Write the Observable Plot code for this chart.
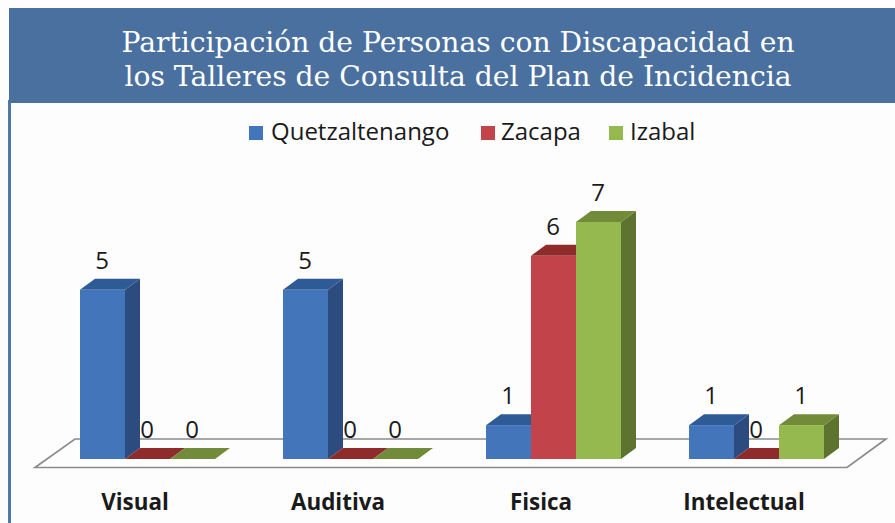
<!DOCTYPE html>
<html><head><meta charset="utf-8">
<script src="https://cdn.jsdelivr.net/npm/d3@7"></script>
<script src="https://cdn.jsdelivr.net/npm/@observablehq/plot@0.6"></script>
<style>
html,body{margin:0;padding:0;background:#fdfdfd;overflow:hidden}
#page{position:relative;width:895px;height:523px;overflow:hidden}
#edge{position:absolute;left:8px;top:100px;width:3px;height:423px;background:#4f79ad}
#title{position:absolute;left:9px;top:8px;width:886px;height:95px;background:#4a70a0;color:#fff;
 font:28.2px/34px "DejaVu Serif",serif;text-align:center;box-sizing:border-box;padding-top:18px;padding-left:12px;white-space:nowrap}
#legend{position:absolute;left:0;top:104px;width:895px;height:46px;font:24px "Open Sans",sans-serif;color:#1a1a1a}
#legend span{position:absolute;top:11px;white-space:nowrap;line-height:32px}
#legend i{position:absolute;top:22px;width:14px;height:14px}
#chart{position:absolute;left:0;top:150px}
</style></head><body>
<div id="page">
<div id="edge"></div>
<div id="title">Participación de Personas con Discapacidad en<br>los Talleres de Consulta del Plan de Incidencia</div>
<div id="legend"></div>
<div id="chart"></div>
</div>
<script>
const categories = ["Visual","Auditiva","Fisica","Intelectual"];
const series = ["Quetzaltenango","Zacapa","Izabal"];
const quetzaltenango = [5,5,1,1];
const zacapa = [0,0,6,0];
const izabal = [0,0,7,1];
const frontColors = ["#4275ba","#c24349","#95b94e"];
const sideColors = ["#2c4c80","#86282a","#5f7330"];
const topColors = ["#2e5b96","#8f2b2b","#728b39"];
const legendSwatchX = [249,481,609];
const legendTextX = [271,501,630];

const values = [quetzaltenango,zacapa,izabal];
const rows = categories.flatMap((c,i)=>series.map((s,j)=>({cat:c,serie:s,value:values[j][i]})));

const legend = document.getElementById("legend");
series.forEach((s,j)=>{
  const sw=document.createElement("i");sw.style.left=legendSwatchX[j]+"px";sw.style.background=frontColors[j];legend.appendChild(sw);
  const t=document.createElement("span");t.textContent=s;t.style.left=legendTextX[j]+"px";legend.appendChild(t);
});

const chartWidth=895, chartLeft=46, chartRight=37;
const depthX=15, depthY=11;
const NS="http://www.w3.org/2000/svg";
function poly(points,fill){const p=document.createElementNS(NS,"polygon");p.setAttribute("points",points.map(d=>d.join(",")).join(" "));p.setAttribute("fill",fill);return p;}

function extrude(index,scales,vals,dims,ctx,next){
  const g=next(index,scales,vals,dims,ctx);
  const rects=[...g.querySelectorAll("rect")];
  rects.forEach((r,k)=>{
    const j=series.indexOf(rows[index[k]].serie);
    const x=+r.getAttribute("x"),y=+r.getAttribute("y"),w=+r.getAttribute("width"),h=+r.getAttribute("height");
    const parent=r.parentNode;
    parent.insertBefore(poly([[x+w,y],[x+w+depthX,y-depthY],[x+w+depthX,y+h-depthY],[x+w,y+h]],sideColors[j]),r);
    parent.insertBefore(poly([[x,y],[x+depthX,y-depthY],[x+w+depthX,y-depthY],[x+w,y]],topColors[j]),r);
  });
  return g;
}

let floorDone=false;
function floor(index,scales,vals,dims){
  if(floorDone) return null;
  floorDone=true;
  const off=scales.fx(categories[0])-dims.marginLeft;
  const l=chartLeft-off, r=chartWidth-chartRight-off, y0=scales.y(0);
  const p=poly([[l-11,y0+8.5],[r-11,y0+8.5],[r+28,y0-20],[l+29,y0-20]],"#fdfdfd");
  p.setAttribute("stroke","#8b8b8b");p.setAttribute("stroke-width","1.7");
  return p;
}

const plot=Plot.plot({
  width:chartWidth,height:373,
  marginLeft:chartLeft,marginRight:chartRight,marginTop:72,marginBottom:64,
  style:{background:"transparent"},
  fx:{domain:categories,paddingInner:0.335,paddingOuter:0.1675,axis:null,label:null},
  x:{domain:series,padding:0,axis:null},
  y:{domain:[0,7],axis:null},
  color:{domain:series,range:frontColors},
  marks:[
    floor,
    Plot.text(rows,{fx:"cat",x:"serie",y:"value",text:d=>String(d.value),dx:-1,dy:-29,fontSize:24,fontFamily:"Open Sans",fill:"#1a1a1a"}),
    Plot.barY(rows,{fx:"cat",x:"serie",y:"value",fill:"serie",render:extrude}),
    Plot.axisFx({anchor:"bottom",tickSize:0,tickPadding:35,dx:-13,label:null,fontSize:22.4,fontWeight:700,fontFamily:"Open Sans",fill:"#1a1a1a"})
  ]
});
document.getElementById("chart").appendChild(plot);
</script>
</body></html>
